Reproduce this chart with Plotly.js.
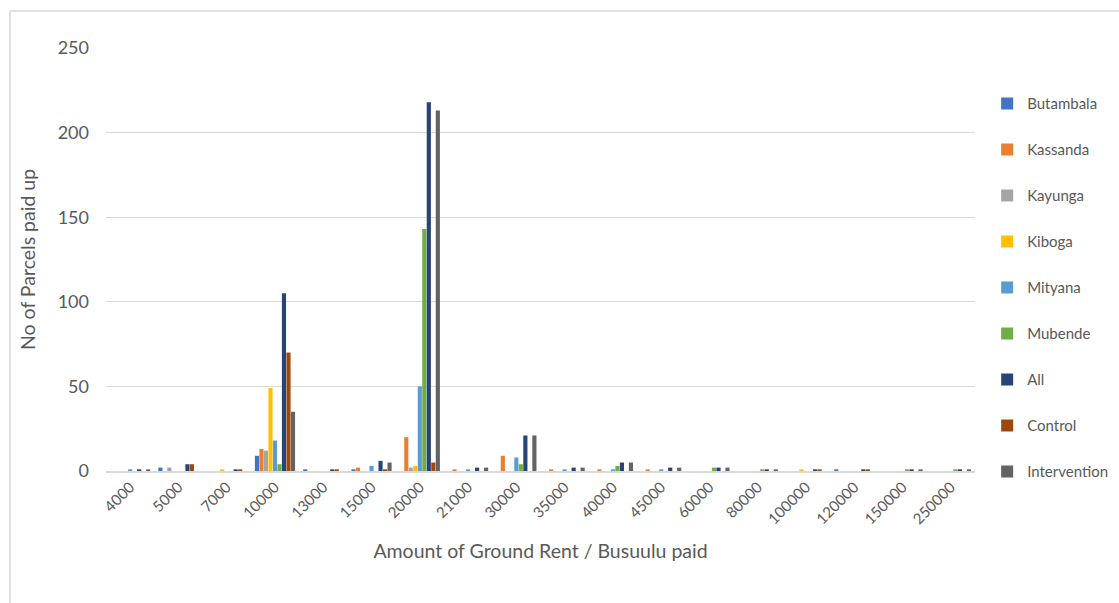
<!DOCTYPE html>
<html>
<head>
<meta charset="utf-8">
<script src="https://cdn.plot.ly/plotly-3.0.1.min.js"></script>
<style>
  html, body { margin: 0; padding: 0; background: #fff; }
  #chart { width: 1119px; height: 603px; }
</style>
</head>
<body>
<div id="chart"></div>
<script>
const categories = ['4000','5000','7000','10000','13000','15000','20000','21000','30000','35000','40000','45000','60000','80000','100000','120000','150000','250000'];

const butambala    = [0,2,0,9,1,1,0,0,0,0,0,0,0,0,0,1,0,0];
const kassanda     = [0,0,0,13,0,2,20,1,9,1,1,1,0,0,0,0,0,0];
const kayunga      = [0,2,0,12,0,0,2,0,0,0,0,0,0,0,0,0,0,0];
const kiboga       = [0,0,1,49,0,0,3,0,0,0,0,0,0,0,1,0,0,0];
const mityana      = [1,0,0,18,0,3,50,1,8,1,1,1,0,0,0,0,0,0];
const mubende      = [0,0,0,4,0,0,143,0,4,0,3,0,2,1,0,0,1,1];
const allParcels   = [1,4,1,105,1,6,218,2,21,2,5,2,2,1,1,1,1,1];
const control      = [0,4,1,70,1,1,5,0,0,0,0,0,0,0,1,1,0,0];
const intervention = [1,0,0,35,0,5,213,2,21,2,5,2,2,1,0,0,1,1];

const seriesNames  = ['Butambala','Kassanda','Kayunga','Kiboga','Mityana','Mubende','All','Control','Intervention'];
const seriesValues = [butambala,kassanda,kayunga,kiboga,mityana,mubende,allParcels,control,intervention];
const seriesColors = ['#4472C4','#ED7D31','#A5A5A5','#FFC000','#5B9BD5','#70AD47','#264478','#9E480E','#636363'];

const traces = seriesNames.map((name, i) => ({
  type: 'bar',
  name: name,
  x: categories,
  y: seriesValues[i],
  legendgroup: name,
  marker: { color: seriesColors[i], line: { width: 0 } },
  hoverinfo: 'x+y+name'
}));

const W = 1119, H = 603;
const ml = 106, mr = 144, mt = 48, mb = 132;
const pw = W - ml - mr, ph = H - mt - mb;
const bx = (10 - ml) / pw;
const by = (H - mb - 11) / ph;

const layout = {
  width: W, height: H,
  margin: { l: ml, r: mr, t: mt, b: mb, pad: 0, autoexpand: false },
  paper_bgcolor: '#ffffff',
  plot_bgcolor: '#ffffff',
  font: { family: 'Lato, "Open Sans", sans-serif', color: '#595959' },
  barmode: 'group',
  bargap: 0.16,
  bargroupgap: 0.08,
  showlegend: true,
  legend: {
    x: 1.014, xanchor: 'left',
    y: 0.907, yanchor: 'top',
    font: { size: 15, color: '#595959' },
    tracegroupgap: 23.5,
    bgcolor: 'rgba(0,0,0,0)'
  },
  xaxis: {
    type: 'category',
    tickangle: -45,
    tickfont: { size: 15, color: '#595959' },
    showline: true, linecolor: '#d9d9d9', linewidth: 1.5,
    showgrid: false, ticks: '', zeroline: false,
    automargin: false,
    title: { text: 'Amount of Ground Rent / Busuulu paid', font: { size: 19.5, color: '#595959' }, standoff: 18 }
  },
  yaxis: {
    range: [0, 250],
    dtick: 50,
    tickfont: { size: 18, color: '#595959' },
    showgrid: true, gridcolor: '#d9d9d9', gridwidth: 1,
    zeroline: false, showline: false, ticks: '',
    ticklabelstandoff: 16,
    automargin: false,
    title: { text: 'No of Parcels paid up', font: { size: 19.5, color: '#595959' }, standoff: 16 }
  },
  shapes: [
    { type: 'line', xref: 'paper', yref: 'paper', x0: bx, x1: bx, y0: -0.5, y1: by, line: { color: '#d9d9d9', width: 1.5 } },
    { type: 'line', xref: 'paper', yref: 'paper', x0: bx, x1: 1.3, y0: by, y1: by, line: { color: '#d9d9d9', width: 1.5 } }
  ]
};

Plotly.newPlot('chart', traces, layout, { displayModeBar: false, staticPlot: true });
</script>
</body>
</html>
